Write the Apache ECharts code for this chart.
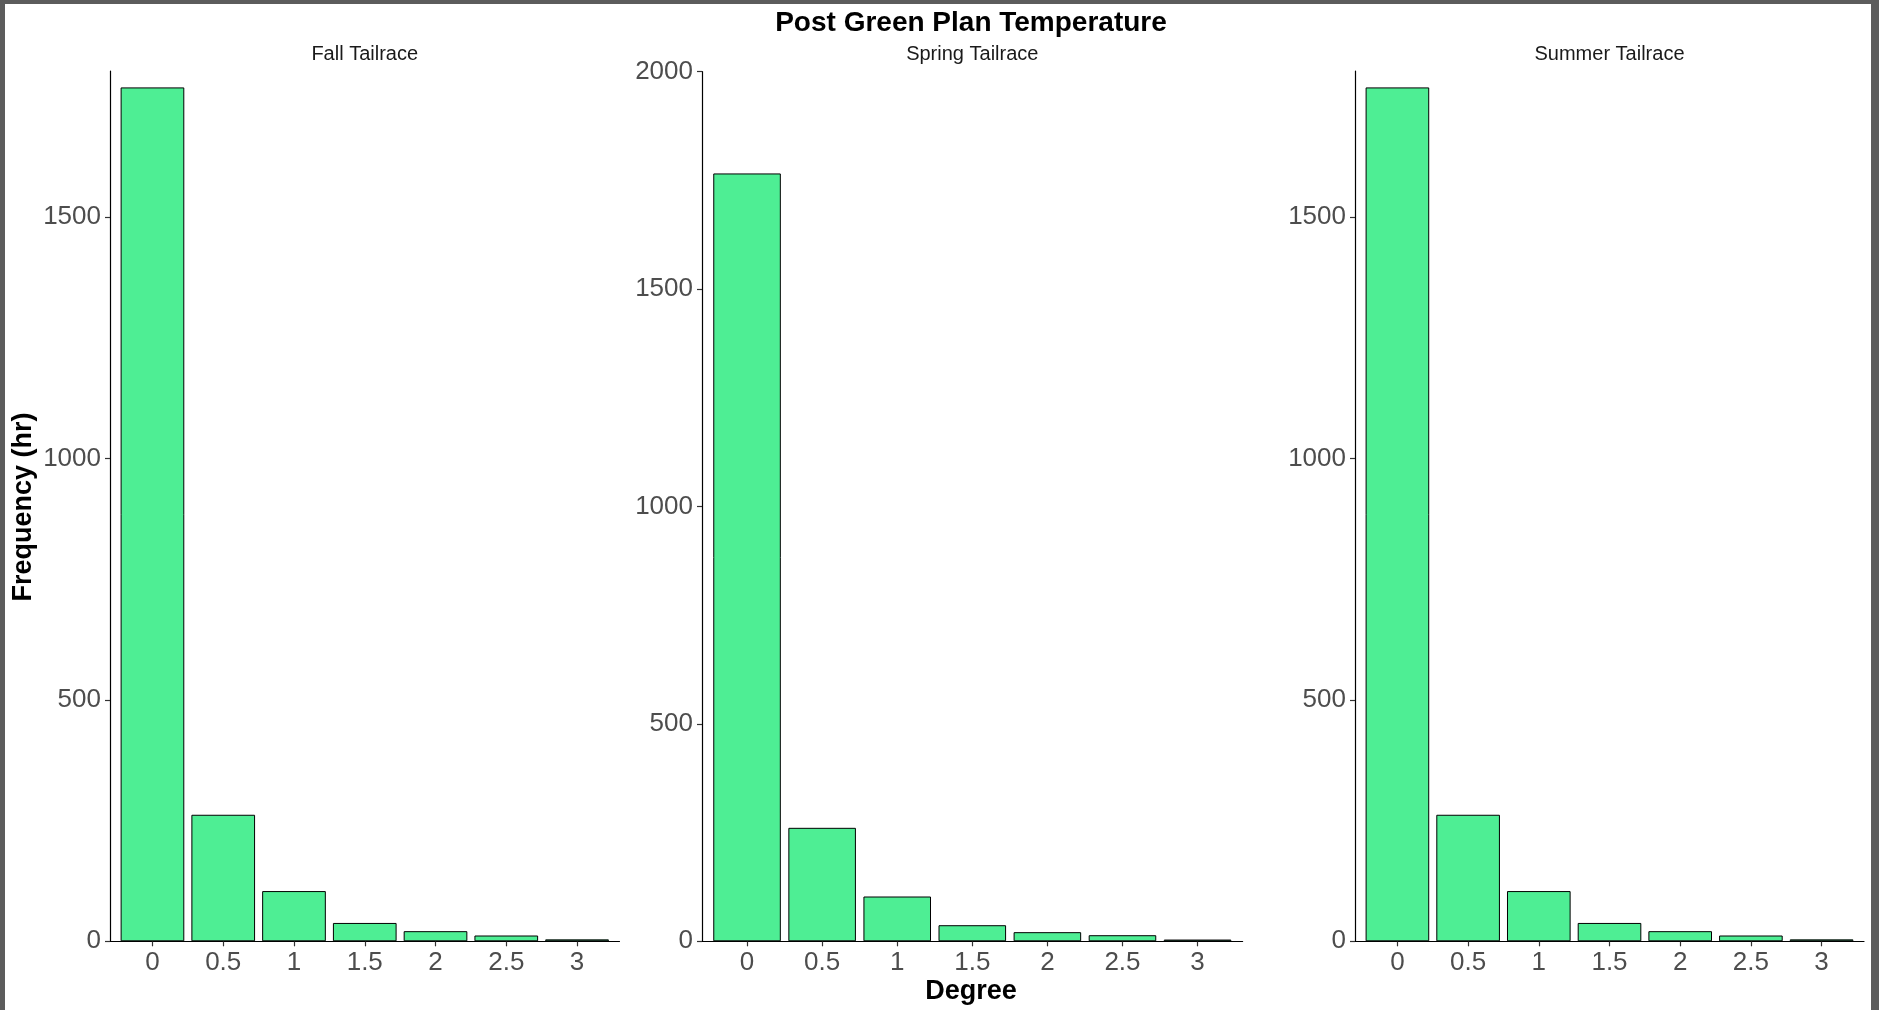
<!DOCTYPE html>
<html>
<head>
<meta charset="utf-8">
<script src="https://cdn.jsdelivr.net/npm/echarts@6/dist/echarts.min.js"></script>
<style>
html,body{margin:0;padding:0;background:#fff;}
#chart{position:absolute;left:0;top:0;width:1879px;height:1010px;}
</style>
</head>
<body>
<div id="chart"></div>
<script>
// ---- data ----
const degrees = [0, 0.5, 1, 1.5, 2, 2.5, 3];
const fallValues = [1768, 262, 104, 38, 21, 12, 4];
const springValues = [1766, 261, 103, 37, 21, 14, 4];
const summerValues = [1768, 262, 104, 38, 21, 12, 4];
const panelTitles = ['Fall Tailrace', 'Spring Tailrace', 'Summer Tailrace'];
const yTicksShort = [0, 500, 1000, 1500];
const yTicksLong = [0, 500, 1000, 1500, 2000];
const chartTitle = 'Post Green Plan Temperature';
const xTitle = 'Degree';
const yTitle = 'Frequency (hr)';

const FONT = "'Liberation Sans', Arial, sans-serif";
const grids = [
  {left: 110, top: 71, width: 509.5, height: 870.3},
  {left: 702, top: 71.7, width: 540.6, height: 869.6},
  {left: 1355, top: 71, width: 509, height: 870.3}
];
const yMax = [1802, 2000, 1802];
const yTicks = [yTicksShort, yTicksLong, yTicksShort];
const seriesValues = [fallValues, springValues, summerValues];

const xAxes = grids.map((g, i) => ({
  type: 'value', gridIndex: i, min: -0.3, max: 3.3,
  splitLine: {show: false},
  axisLine: {show: true, onZero: false, lineStyle: {color: '#000', width: 1.2}},
  axisTick: {show: true, length: 5, lineStyle: {color: '#333', width: 1.2}, customValues: degrees},
  axisLabel: {customValues: degrees, color: '#4D4D4D', fontSize: 26, fontFamily: FONT, margin: 9,
              formatter: v => String(v)}
}));
const yAxes = grids.map((g, i) => ({
  type: 'value', gridIndex: i, min: 0, max: yMax[i], interval: 500,
  splitLine: {show: false},
  axisLine: {show: true, onZero: false, lineStyle: {color: '#000', width: 1.2}},
  axisTick: {show: true, length: 5, lineStyle: {color: '#333', width: 1.2}, customValues: yTicks[i]},
  axisLabel: {customValues: yTicks[i], color: '#4D4D4D', fontSize: 26, fontFamily: FONT, margin: 9,
              formatter: v => String(v), verticalAlign: 'middle', padding: [3, 0, 0, 0]}
}));
const series = seriesValues.map((vals, i) => ({
  type: 'bar', xAxisIndex: i, yAxisIndex: i,
  data: degrees.map((d, k) => [d, vals[k]]),
  barWidth: '90%',
  itemStyle: {color: '#4EEE94', borderColor: '#000', borderWidth: 1},
  emphasis: {disabled: true},
  animation: false
}));

const panelCenters = grids.map(g => g.left + g.width / 2);

const graphic = [
  {type: 'rect', shape: {x: 0, y: 0, width: 5, height: 1010}, style: {fill: '#5c5c5c'}},
  {type: 'rect', shape: {x: 0, y: 0, width: 1879, height: 4}, style: {fill: '#5c5c5c'}},
  {type: 'rect', shape: {x: 1871, y: 0, width: 8, height: 1010}, style: {fill: '#5c5c5c'}},
  {type: 'text', x: 971, y: 23.5, style: {text: chartTitle, font: "bold 28px " + FONT, fill: '#000', align: 'center', verticalAlign: 'middle'}},
  ...panelTitles.map((t, i) => ({type: 'text', x: panelCenters[i], y: 54.5,
     style: {text: t, font: "20px " + FONT, fill: '#1a1a1a', align: 'center', verticalAlign: 'middle'}})),
  {type: 'text', x: 971, y: 992, style: {text: xTitle, font: "bold 27px " + FONT, fill: '#000', align: 'center', verticalAlign: 'middle'}},
  {type: 'text', x: 24, y: 507, rotation: Math.PI / 2,
   style: {text: yTitle, font: "bold 27px " + FONT, fill: '#000', align: 'center', verticalAlign: 'middle'}}
];

const chart = echarts.init(document.getElementById('chart'), null, {renderer: 'canvas'});
chart.setOption({
  animation: false,
  backgroundColor: '#fff',
  grid: grids,
  xAxis: xAxes,
  yAxis: yAxes,
  series: series,
  graphic: graphic
});
</script>
</body>
</html>
